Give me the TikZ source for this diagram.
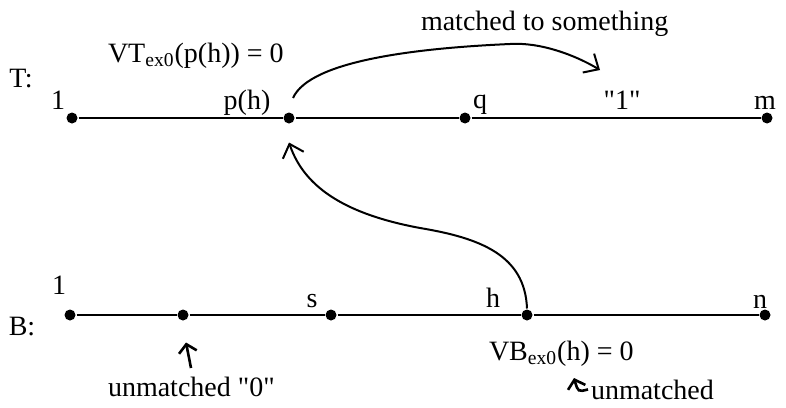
\documentclass[tikz,border=0pt]{standalone}
\usepackage{fontspec}
\setmainfont{Liberation Serif}
\usetikzlibrary{arrows.meta}
\begin{document}
\begin{tikzpicture}[x=0.5pt,y=-0.5pt,font=\fontsize{14}{16}\selectfont,line width=1pt,
  pt/.style={circle,fill,inner sep=0pt,minimum size=5.5pt},
  lbl/.style={inner sep=0pt,anchor=base},
  txt/.style={inner sep=0pt,anchor=base west},
  barb/.style={-{Straight Barb[length=6pt,width=11pt]}},
  smallbarb/.style={line width=1.3pt,-{Straight Barb[length=4pt,width=9pt]}}]
  \useasboundingbox (0,0) rectangle (786,407);
  % top string T
  \node[pt] (t1) at (72,118) {};
  \node[pt] (tp) at (289,118) {};
  \node[pt] (tq) at (465,118) {};
  \node[pt] (tm) at (767,118) {};
  \draw (t1) -- (tp) -- (tq) -- (tm);
  \node[lbl] (tname) at (21,87) {T:};
  \node[lbl] (tl1) at (58,109) {1};
  \node[lbl] (tlp) at (247,109) {p(h)};
  \node[lbl] (tlq) at (480,108) {q};
  \node[lbl] (tlone) at (622,109) {\textquotedbl 1\textquotedbl};
  \node[lbl] (tlm) at (765,109) {m};
  \node[txt] (vt) at (107,62) {VT\textsubscript{ex0}(p(h)) = 0};
  \node[txt] (match) at (420,30) {matched to something};
  \coordinate (tend) at (600,70);
  \draw[barb] ([shift={(2pt,10pt)}]tp.center) .. controls (310,60) and (420,48) .. (510,44)
    .. controls (540,42) and (575,55) .. (tend);
  % bottom string B
  \node[pt] (b1) at (70,315) {};
  \node[pt] (b0) at (183,315) {};
  \node[pt] (bs) at (331,315) {};
  \node[pt] (bh) at (527,315) {};
  \node[pt] (bn) at (765,315) {};
  \draw (b1) -- (b0) -- (bs) -- (bh) -- (bn);
  \node[lbl] (bname) at (22,335) {B:};
  \node[lbl] (bl1) at (59,294) {1};
  \node[lbl] (bls) at (312,307) {s};
  \node[lbl] (blh) at (493,307) {h};
  \node[lbl] (bln) at (760,308) {n};
  \node[txt] (vb) at (488,360) {VB\textsubscript{ex0}(h) = 0};
  \node[txt] (um0) at (107,396) {unmatched \textquotedbl 0\textquotedbl};
  \node[txt] (umh) at (590,399) {unmatched};
  % arrows
  \draw[barb] (bh.north) .. controls (525,255) and (480,238) .. (420,228)
    .. controls (350,215) and (305,190) .. ([yshift=-9pt]tp.south);
  \coordinate (u0) at (191,368);
  \draw[smallbarb] (u0) -- ([shift={(1.5pt,-10.5pt)}]b0.south);
  \draw[smallbarb] ([xshift=-1pt]umh.west) .. controls (578,392) .. (574,378);
\end{tikzpicture}
\end{document}
